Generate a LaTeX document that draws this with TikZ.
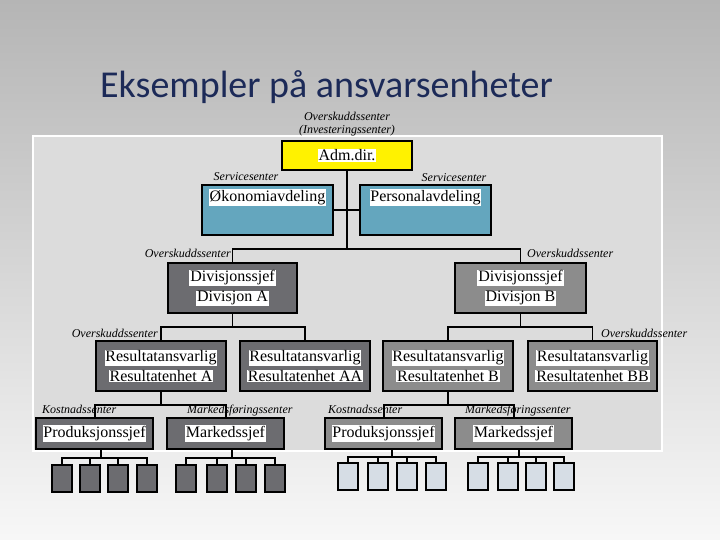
\documentclass[tikz,border=0pt]{standalone}
\usepackage{fontspec}
\setmainfont{Liberation Serif}
\newfontfamily\titlefont{Carlito}
\usetikzlibrary{positioning}

\definecolor{titleblue}{RGB}{28,42,88}
\definecolor{panelgray}{RGB}{220,220,220}
\definecolor{servblue}{RGB}{100,166,190}
\definecolor{divdark}{RGB}{108,108,112}
\definecolor{divmid}{RGB}{140,140,140}
\definecolor{leaflight}{RGB}{214,221,229}

% white highlight behind box texts
\newcommand{\hl}[1]{{\setlength{\fboxsep}{0.8pt}\colorbox{white}{#1}}}

\begin{document}
\begin{tikzpicture}[
    x=1pt, y=-1pt,
    unit/.style={draw=black, line width=1.5pt, minimum width=130pt, minimum height=50pt,
                 inner sep=0pt, align=center, font=\fontsize{16}{20}\selectfont},
    lowunit/.style={unit, minimum width=117pt, minimum height=31pt},
    leaf/.style={draw=black, line width=1.6pt, minimum width=20pt, minimum height=27pt, inner sep=0pt},
    boxtext/.style={inner sep=0pt, font=\fontsize{16}{20}\selectfont},
    centre/.style={font=\fontsize{12}{13}\selectfont\itshape, inner sep=0pt},
    orgline/.style={draw=black, line width=1.2pt},
    leafline/.style={draw=black, line width=2pt}
]

    % --- Background ---
    \shade[top color=black!29, bottom color=black!3] (0,0) rectangle (720,540);
    \useasboundingbox (0,0) rectangle (720,540);
    \draw[white, line width=2pt, fill=panelgray] (33,136) rectangle (662,451);

    \node[font=\titlefont\fontsize{38}{40}\selectfont, text=titleblue, anchor=base west, inner sep=0pt]
        (title) at (100,98) {Eksempler på ansvarsenheter};

    % --- Top level ---
    \node[unit, fill=yellow, minimum height=29pt] (adm) at (347,155.5) {\hl{Adm.dir.}};
    \node[centre, align=center, anchor=south] (admlbl) at (347,136)
        {Overskuddssenter\\(Investeringssenter)};

    % --- Service units ---
    \node[unit, fill=servblue, minimum width=131pt] (oko) at (267.5,210) {};
    \node[boxtext, below=5pt of oko.north] (okotxt) {\hl{Økonomiavdeling}};
    \node[unit, fill=servblue, minimum width=131pt] (pers) at (425.5,210) {};
    \node[boxtext, below=5pt of pers.north] (perstxt) {\hl{Personalavdeling}};
    \node[centre, anchor=base] (okolbl) at (246,181) {Servicesenter};
    \node[centre, anchor=base] (perslbl) at (454,182) {Servicesenter};

    % --- Divisions ---
    \node[unit, fill=divdark, minimum width=129pt] (divA) at (232.5,288)
        {\hl{Divisjonssjef}\\\hl{Divisjon A}};
    \node[unit, fill=divmid, minimum width=131pt] (divB) at (520.5,288)
        {\hl{Divisjonssjef}\\\hl{Divisjon B}};
    \node[centre, anchor=base east] (divAlbl) at (231,258) {Overskuddssenter};
    \node[centre, anchor=base west] (divBlbl) at (527,258) {Overskuddssenter};

    % --- Result units ---
    \node[unit, fill=divdark] (resA) at (161,366) {\hl{Resultatansvarlig}\\\hl{Resultatenhet A}};
    \node[unit, fill=divdark] (resAA) at (305,366) {\hl{Resultatansvarlig}\\\hl{Resultatenhet AA}};
    \node[unit, fill=divmid] (resB) at (448,366) {\hl{Resultatansvarlig}\\\hl{Resultatenhet B}};
    \node[unit, fill=divmid, minimum width=129pt] (resBB) at (592.5,366) {\hl{Resultatansvarlig}\\\hl{Resultatenhet BB}};
    \node[centre, anchor=base east] (resAlbl) at (158,337) {Overskuddssenter};
    \node[centre, anchor=base west] (resBBlbl) at (601,337) {Overskuddssenter};

    % --- Cost and marketing units ---
    \node[lowunit, fill=divdark] (prodA) at (94.5,433.5) {\hl{Produksjonssjef}};
    \node[lowunit, fill=divdark] (markA) at (225.5,433.5) {\hl{Markedssjef}};
    \node[lowunit, fill=divmid] (prodB) at (383.5,433.5) {\hl{Produksjonssjef}};
    \node[lowunit, fill=divmid] (markB) at (513.5,433.5) {\hl{Markedssjef}};

    % --- Connectors ---
    \coordinate (jTop) at (347,249);
    \draw[orgline] (adm.south) -- (jTop);
    \draw[orgline] (oko) -- (pers);
    \draw[orgline] (divA.north) |- (jTop) -| (divB.north);

    \coordinate (jA) at (232.5,327);
    \draw[orgline] (divA.south) -- (jA);
    \draw[orgline] (resA.north) |- (jA) -| (resAA.north);
    \coordinate (jB) at (520.5,327);
    \draw[orgline] (divB.south) -- (jB);
    \draw[orgline] (resB.north) |- (jB) -| (resBB.north);

    \coordinate (jRA) at (161,405);
    \draw[leafline] (resA.south) -- (jRA);
    \draw[leafline] (prodA.north) |- (jRA) -| (markA.north);
    \coordinate (jRB) at (448,405);
    \draw[leafline] (resB.south) -- (jRB);
    \draw[leafline] (prodB.north) |- (jRB) -| (markB.north);

    \node[centre, anchor=base west] (kostA) at (42,413) {Kostnadssenter};
    \node[centre, anchor=base west] (mfA) at (187,413) {Markedsføringssenter};
    \node[centre, anchor=base west] (kostB) at (328,413) {Kostnadssenter};
    \node[centre, anchor=base west] (mfB) at (465,413) {Markedsføringssenter};

    % --- Lowest level ---
    \coordinate (pA) at (101,458);
    \draw[leafline] (prodA.south -| pA) -- (pA);
    \foreach \x [count=\i] in {62,90,118,147} {
        \node[leaf, fill=divdark] (pa\i) at (\x,478.5) {};
        \draw[leafline] (pa\i.north) |- (pA);
    }
    \coordinate (mA) at (232,458);
    \draw[leafline] (markA.south -| mA) -- (mA);
    \foreach \x [count=\i] in {186,217,246,275} {
        \node[leaf, fill=divdark] (ma\i) at (\x,478.5) {};
        \draw[leafline] (ma\i.north) |- (mA);
    }
    \coordinate (pB) at (392,457);
    \draw[leafline] (prodB.south -| pB) -- (pB);
    \foreach \x [count=\i] in {348,378,407,436} {
        \node[leaf, fill=leaflight] (pb\i) at (\x,476.5) {};
        \draw[leafline] (pb\i.north) |- (pB);
    }
    \coordinate (mB) at (519,457);
    \draw[leafline] (markB.south -| mB) -- (mB);
    \foreach \x [count=\i] in {478,508,536,564} {
        \node[leaf, fill=leaflight] (mb\i) at (\x,476.5) {};
        \draw[leafline] (mb\i.north) |- (mB);
    }

\end{tikzpicture}
\end{document}
